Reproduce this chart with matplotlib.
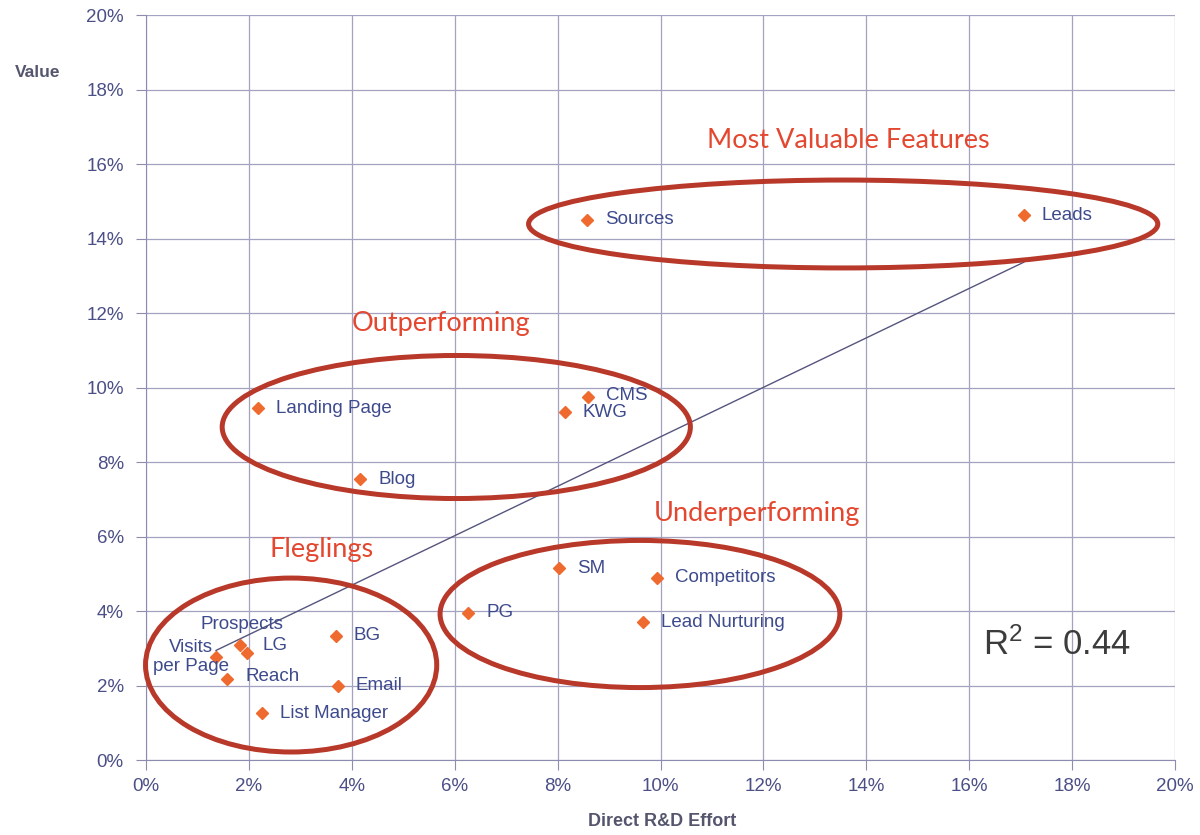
import numpy as np
import matplotlib.pyplot as plt
from matplotlib.patches import Ellipse
from matplotlib.ticker import PercentFormatter


# Feature scores: share of direct R&D effort vs. share of value (percent)
features = ['Sources', 'Leads', 'Landing Page', 'CMS', 'KWG', 'Blog', 'SM',
            'Competitors', 'PG', 'Lead Nurturing', 'BG', 'Email',
            'List Manager', 'Prospects', 'LG', 'Visits\nper Page', 'Reach']
effort = [8.57, 17.06, 2.18, 8.59, 8.14, 4.16, 8.03,
          9.93, 6.26, 9.66, 3.69, 3.73,
          2.25, 1.83, 1.96, 1.36, 1.57]
value = [14.50, 14.63, 9.45, 9.74, 9.34, 7.54, 5.15,
         4.89, 3.95, 3.70, 3.33, 1.99,
         1.26, 3.09, 2.87, 2.77, 2.17]
r_squared = 0.44

# feature groups: name, centre (effort, value), width, height
groups = ['Most Valuable Features', 'Outperforming', 'Underperforming', 'Fleglings']
group_centre = [(13.55, 14.39), (6.03, 8.94), (9.60, 3.92), (2.82, 2.55)]
group_size = [(12.23, 2.36), (9.10, 3.84), (7.77, 3.95), (5.66, 4.67)]
group_title_pos = [(13.64, 16.64), (5.73, 11.73), (11.88, 6.63), (3.42, 5.64)]

# where each point label sits, in pixels from its marker
label_offset = {'Prospects': (-40, 20, 'left'), 'LG': (16, 8, 'left'),
                'Visits\nper Page': (-25, 0, 'center'), 'Reach': (19, 3, 'left'),
                'CMS': (18, 2, 'left')}

label_font = ['Liberation Sans', 'DejaVu Sans']
tick_color = '#4b4f86'
red = '#e4472f'
dark_red = '#b8392a'

plt.rcParams['mathtext.fontset'] = 'custom'
plt.rcParams['mathtext.rm'] = 'Liberation Sans'
plt.rcParams['mathtext.it'] = 'Liberation Sans'

fig = plt.figure(figsize=(12, 8.35), dpi=100)
ax = fig.add_axes([0.1217, 0.0898, 0.8575, 0.8922])

ax.set_xlim(0, 20)
ax.set_ylim(0, 20)
ax.set_xticks(np.arange(0, 21, 2))
ax.set_yticks(np.arange(0, 21, 2))
ax.xaxis.set_major_formatter(PercentFormatter(decimals=0))
ax.yaxis.set_major_formatter(PercentFormatter(decimals=0))
ax.grid(True, color='#a3a3c0', linewidth=0.9)
ax.set_axisbelow(True)
for side in ['top', 'right']:
    ax.spines[side].set_visible(False)
for side in ['left', 'bottom']:
    ax.spines[side].set_color('#8c8cae')
ax.tick_params(axis='both', colors='#8c8cae', labelcolor=tick_color, labelsize=13.5, length=7)
ax.tick_params(axis='y', pad=9)
ax.tick_params(axis='x', pad=6)
for lbl in ax.get_xticklabels() + ax.get_yticklabels():
    lbl.set_family(label_font)

# least squares trend line over the range of the data
slope, intercept = np.polyfit(effort, value, 1)
xs = np.array([min(effort), max(effort)])
ax.plot(xs, slope * xs + intercept, color='#55557e', linewidth=1.0, zorder=2)

ax.plot(effort, value, linestyle='none', marker='D', markersize=6,
        color='#ee6a2e', zorder=4)

for name, x, y in zip(features, effort, value):
    dx, dy, ha = label_offset.get(name, (18, 0, 'left'))
    ax.annotate(name, (x, y), xytext=(dx, dy), textcoords='offset pixels',
                ha=ha, va='center', multialignment='center', fontsize=13.5,
                color='#3d4a8c', family=label_font, zorder=5)

for (cx, cy), (w, h), title, pos in zip(group_centre, group_size, groups, group_title_pos):
    ax.add_patch(Ellipse((cx, cy), w, h, fill=False, edgecolor=dark_red,
                         linewidth=3.6, zorder=3, clip_on=False))
    ax.text(pos[0], pos[1], title, ha='center', va='center', fontsize=19.5,
            color=red, family=['Lato', 'DejaVu Sans'])

ax.text(17.7, 3.1, f'R$^2$ = {r_squared:.2f}', ha='center', va='center',
        fontsize=25, color='#3c3c3c', family=label_font)

fig.text(0.031, 0.913, 'Value', ha='center', va='center', fontsize=12.5,
         fontweight='bold', color='#55566e', family=label_font)
fig.text(0.552, 0.016, 'Direct R&D Effort', ha='center', va='center', fontsize=13,
         fontweight='bold', color='#55566e', family=label_font)

fig.savefig('out.png', dpi=100)
